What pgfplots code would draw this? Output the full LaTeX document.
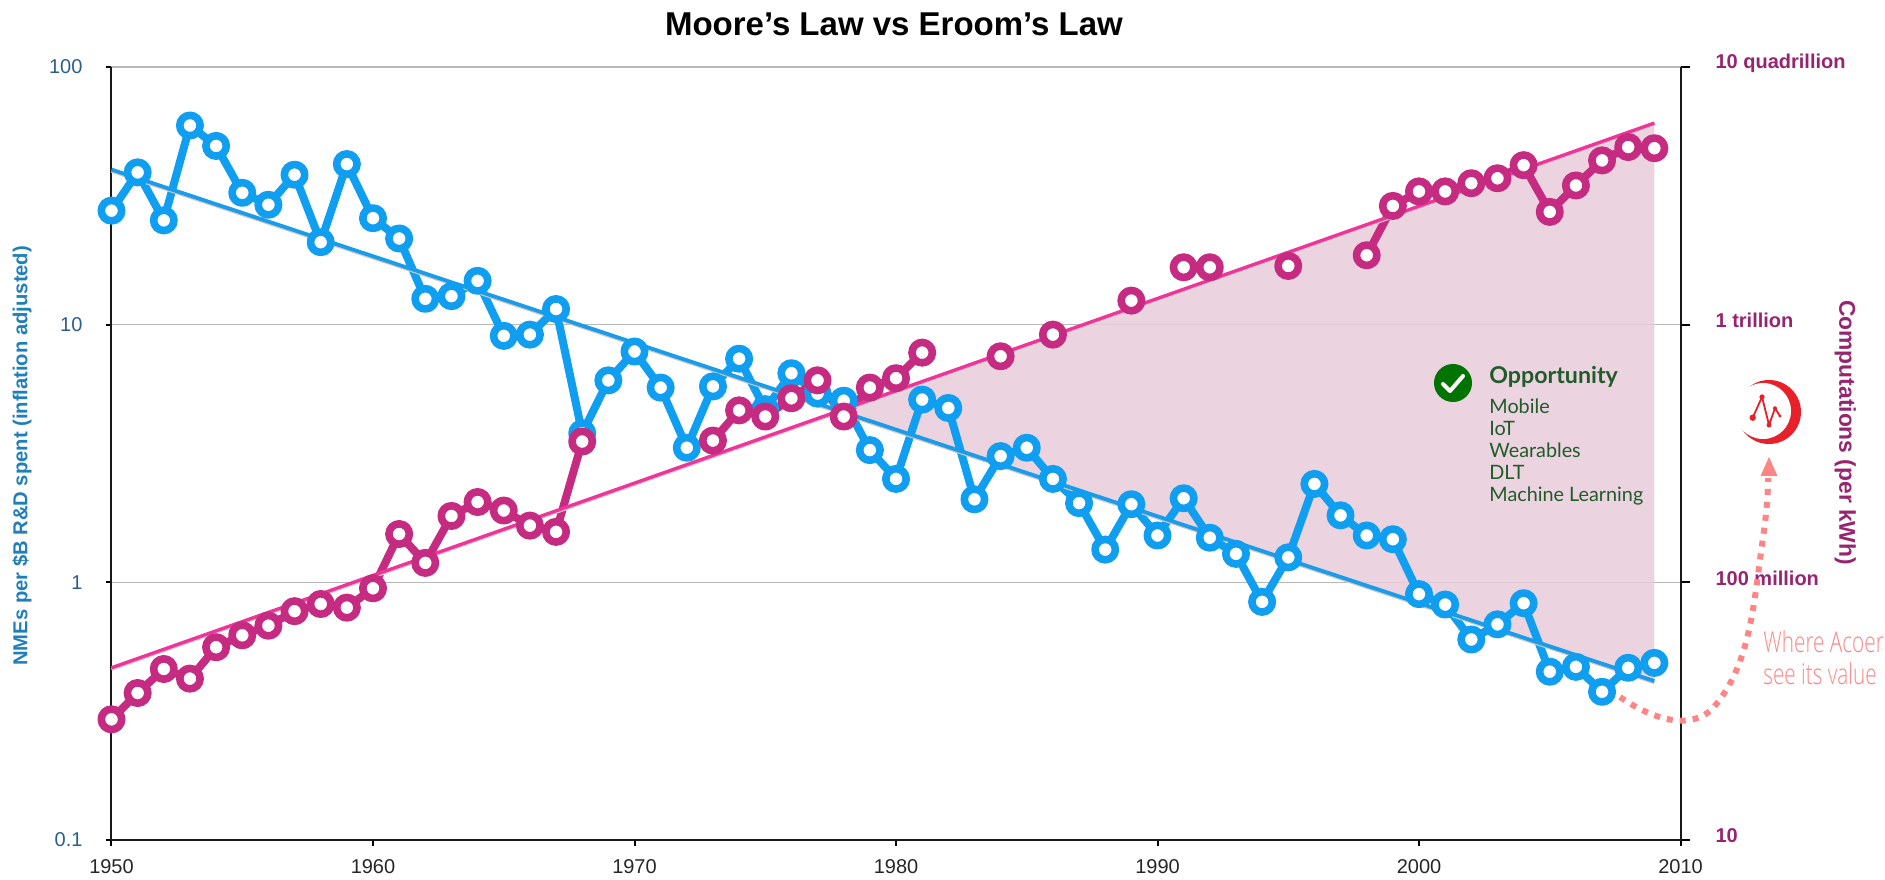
\documentclass[border=0pt]{standalone}
\usepackage{pgfplots}
\pgfplotsset{compat=1.18}
\usepackage{pgfplotstable}
\usepackage{fontspec}
\setmainfont{Liberation Sans}
\newfontfamily\latofont{Lato}
\newfontfamily\narrowfont[FakeStretch=0.72]{Open Sans Light}
\usetikzlibrary{arrows.meta}
\definecolor{nmeblue}{HTML}{109EF0}
\definecolor{trendblue}{HTML}{1A9CE8}
\definecolor{compink}{HTML}{C52B80}
\definecolor{trendpink}{HTML}{F0359A}
\definecolor{shade}{HTML}{E9CBDA}
\definecolor{lefttick}{HTML}{2A5F8C}
\definecolor{leftlabel}{HTML}{1F7FB8}
\definecolor{rightlabel}{HTML}{96246F}
\definecolor{oppgreen}{HTML}{1F5C2A}
\definecolor{acoer}{HTML}{FF8484}
\definecolor{logored}{HTML}{E8202A}
\pgfplotstableread{
year nme
1950 27.7
1951 39
1952 25.4
1953 59.3
1954 49.4
1955 32.5
1956 29.2
1957 38.2
1958 20.9
1959 42
1960 25.9
1961 21.6
1962 12.6
1963 12.9
1964 14.8
1965 9.05
1966 9.15
1967 11.5
1968 3.79
1969 6.08
1970 7.87
1971 5.7
1972 3.33
1973 5.76
1974 7.38
1975 4.7
1976 6.48
1977 5.4
1978 5.07
1979 3.26
1980 2.52
1981 5.12
1982 4.75
1983 2.1
1984 3.09
1985 3.33
1986 2.52
1987 2.03
1988 1.34
1989 2.01
1990 1.52
1991 2.12
1992 1.49
1993 1.29
1994 0.84
1995 1.25
1996 2.41
1997 1.82
1998 1.52
1999 1.47
2000 0.90
2001 0.82
2002 0.60
2003 0.687
2004 0.83
2005 0.45
2006 0.47
2007 0.376
2008 0.466
2009 0.487
}\nmetable
\pgfplotstableread{
year comp
1950 0.294
1951 0.372
1952 0.461
1953 0.423
1954 0.56
1955 0.623
1956 0.679
1957 0.773
1958 0.824
1959 0.798
1960 0.948
1961 1.54
1962 1.19
1963 1.81
1964 2.05
1965 1.9
1966 1.66
1967 1.57
1968 3.52
1969 nan
1973 3.55
1974 4.65
1975 4.4
1976 5.18
1977 6.08
1978 4.4
1979 5.7
1980 6.2
1981 7.79
1982 nan
1984 7.54
1985 nan
1986 9.15
1987 nan
1989 12.4
1990 nan
1991 16.7
1992 16.7
1993 nan
1995 16.9
1996 nan
1998 18.6
1999 28.9
2000 32.9
2001 32.9
2002 35.4
2003 37
2004 41.6
2005 27.4
2006 34.7
2007 43.4
2008 48.9
2009 48.4
}\comptable
\begin{document}
\begin{tikzpicture}
\path[use as bounding box] (-55.75pt,-19.5pt) rectangle (886.75pt,420pt);
\begin{axis}[
  scale only axis, width=784.5pt, height=386.5pt,
  at={(0,0)}, anchor=south west,
  xmin=1950, xmax=2010, ymin=0.1, ymax=100, ymode=log,
  axis x line=bottom, axis y line=left,
  axis line style={-, black!90, line width=1pt},
  xtick={1950,1960,1970,1980,1990,2000,2010},
  x tick label style={/pgf/number format/1000 sep={}, /pgf/number format/assume math mode=true, font=\fontsize{10}{12}\selectfont, color=black!85, yshift=-3pt},
  ytick={0.1,1,10,100}, yticklabels={0.1,1,10,100},
  yminorticks=false, xminorticks=false,
  y tick label style={font=\fontsize{10}{12}\selectfont, color=lefttick, xshift=-8pt},
  tick align=outside, major tick length=3pt,
  tick style={black, line width=1pt},
  ymajorgrids, y grid style={black!28, line width=0.8pt},
  unbounded coords=jump,
  clip=false,
  title={\bfseries Moore’s Law vs Eroom’s Law},
  title style={at={(axis description cs:0.4987,1.0556)}, anchor=center, yshift=-6pt, font=\fontsize{16.5}{19}\selectfont, color=black},
  ylabel={\bfseries NMEs per \$B R\&D spent (inflation adjusted)},
  every axis y label/.style={at={(axis description cs:-0.057,0.497)}, anchor=center, rotate=90, font=\fontsize{10.1}{12}\selectfont, color=leftlabel},
]
\addplot[draw=none, fill=shade, fill opacity=0.85] coordinates {(1977.8,4.62) (2009,60.6) (2009,0.414)} -- cycle;
\addplot[nmeblue, line width=4pt, line join=round, mark=*, mark size=5.1pt,
  mark options={solid, draw=nmeblue, fill=white, line width=3.8pt}] table[x=year,y=nme] {\nmetable};
\addplot[black!22, line width=1.6pt, yshift=-0.8pt] coordinates {(1950,40) (2009,0.414)};
\addplot[trendblue, line width=1.9pt] coordinates {(1950,40) (2009,0.414)};
\addplot[compink, line width=4pt, line join=round, mark=*, mark size=5.1pt,
  mark options={solid, draw=compink, fill=white, line width=3.8pt}] table[x=year,y=comp] {\comptable};
\addplot[black!18, line width=1.4pt, yshift=-0.8pt] coordinates {(1950,0.466) (2009,60.6)};
\addplot[trendpink, line width=1.7pt] coordinates {(1950,0.466) (2009,60.6)};
\end{axis}
\begin{axis}[
  scale only axis, width=784.5pt, height=386.5pt,
  at={(0,0)}, anchor=south west,
  xmin=1950, xmax=2010, ymin=0.1, ymax=100, ymode=log,
  axis x line=none, axis y line=right,
  axis line style={-, black!90, line width=1pt},
  ytick={0.1,1,10,100},
  yticklabels={10,100 million,1 trillion,10 quadrillion},
  yminorticks=false,
  y tick label style={font=\fontsize{10}{12}\bfseries\selectfont, color=rightlabel, anchor=west, xshift=9.5pt, yshift=2pt},
  tick align=outside, major tick length=4.5pt,
  tick style={black, line width=1pt},
  ylabel={\bfseries Computations (per kWh)},
  every axis y label/.style={at={(axis description cs:1.105,0.527)}, anchor=center, rotate=-90, font=\fontsize{11.4}{13}\selectfont, color=rightlabel},
]
\end{axis}
\begin{scope}[x=0.5pt,y=-0.5pt,shift={(-55.75pt,420pt)}]
  % opportunity note
  \fill[green!45!black] (1453,383) circle (19);
  \draw[white, line width=2pt, line cap=round, line join=round] (1443,384) -- (1450,391) -- (1463,376);
  \node[anchor=west, inner sep=0pt, text=oppgreen, font=\latofont\fontsize{11.6}{13}\bfseries\selectfont] at (1489,377) {Opportunity};
  \begin{scope}[every node/.style={anchor=west, inner sep=0pt, text=oppgreen, font=\latofont\fontsize{9.9}{12}\selectfont}]
    \node at (1489,406) {Mobile};
    \node at (1489,428) {IoT};
    \node at (1489,450) {Wearables};
    \node at (1489,472) {DLT};
    \node at (1489,496) {Machine Learning};
  \end{scope}
  % logo
  \fill[logored] (1769,412) circle (32);
  \fill[white] (1763,411) circle (28);
  \draw[logored, line width=0.9pt] (1752.7,417.7) -- (1762,397) -- (1769,425) -- (1775,408.3) -- (1780,416);
  \fill[logored] (1752.7,417.7) circle (3.2) (1762,397) circle (2.6) (1769,425) circle (2.4) (1775,408.3) circle (2) (1780,416) circle (1.6);
  % arrow
  \draw[acoer, line width=3pt, dash pattern=on 3pt off 3.5pt]
    (1620,697) .. controls (1650,718) and (1690,732) .. (1713,708)
    .. controls (1745,672) and (1752,620) .. (1758,575)
    .. controls (1763,535) and (1768,510) .. (1768,478);
  \fill[acoer] (1769,457) -- (1760.5,476) -- (1777.5,476) -- cycle;
  \node[anchor=west, inner sep=0pt, text=acoer, font=\narrowfont\fontsize{14.4}{16}\selectfont] at (1763,642) {Where Acoer};
  \node[anchor=west, inner sep=0pt, text=acoer, font=\narrowfont\fontsize{14.4}{16}\selectfont] at (1763,674) {see its value};
\end{scope}
\end{tikzpicture}
\end{document}
